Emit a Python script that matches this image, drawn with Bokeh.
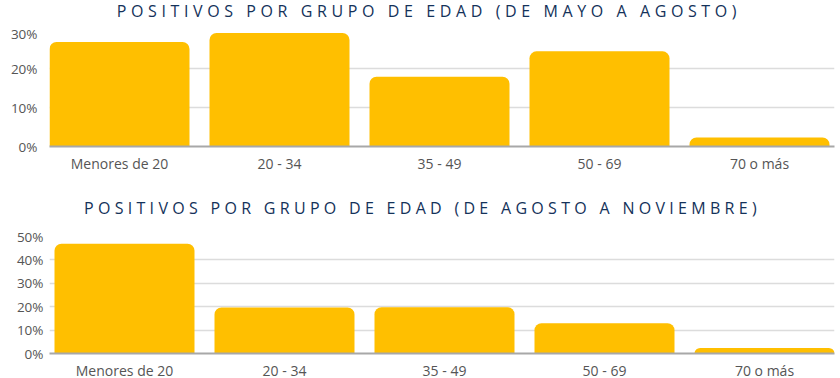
from bokeh.plotting import figure
from bokeh.models import (Range1d, FixedTicker, PrintfTickFormatter,
                          Div, ColumnDataSource)
from bokeh.layouts import column
from bokeh.embed import file_html
from bokeh.resources import INLINE

# ---- data ----
categories = ["Menores de 20", "20 - 34", "35 - 49", "50 - 69", "70 o más"]
may_aug = [26.8, 29.1, 17.9, 24.4, 2.3]
aug_nov = [46.9, 19.7, 19.8, 12.9, 2.4]
title_top = "POSITIVOS POR GRUPO DE EDAD (DE MAYO A AGOSTO)"
title_bottom = "POSITIVOS POR GRUPO DE EDAD (DE AGOSTO A NOVIEMBRE)"
ticks_top = [0, 10, 20, 30]
ticks_bottom = [0, 10, 20, 30, 40, 50]

BAR = "#FFBF00"
NAVY = "#14325a"
W = 840
LEFT, RIGHT = 49, 6
FRAME_W = W - LEFT - RIGHT
BAR_PX = 140.0
STEP = 160.0 / BAR_PX  # category step in bar-width units


def make_title(text, height, spacing, shift):
    return Div(text=text, width=W, height=height, margin=(0, 0, 0, 0),
               styles={"font-family": "'Open Sans', sans-serif", "font-size": "16px",
                       "letter-spacing": f"{spacing}px", "color": NAVY,
                       "text-align": "center", "line-height": f"{height - 1}px",
                       "box-sizing": "border-box", "padding-left": f"{shift}px",
                       "width": f"{W}px", "white-space": "nowrap"})


def make_fig(values, ymax, ticks, height, top, bottom, ystandoff, x_offset_px):
    xs = [i * STEP for i in range(len(categories))]
    src = ColumnDataSource(dict(x=xs, cat=categories, val=values))
    start = -0.5 - x_offset_px / BAR_PX
    p = figure(x_range=Range1d(start, start + FRAME_W / BAR_PX),
               y_range=Range1d(0, ymax), width=W, height=height,
               output_backend="svg", toolbar_location=None,
               min_border_left=LEFT, min_border_right=RIGHT,
               min_border_top=top, min_border_bottom=bottom)
    p.vbar(x="x", top="val", width=1.0, source=src, fill_color=BAR,
           line_color=None, border_radius=(7, 7, 0, 0))
    p.outline_line_color = None
    p.background_fill_color = "white"
    p.border_fill_color = "white"
    p.xgrid.grid_line_color = None
    p.ygrid.grid_line_color = "#dcdcdc"
    p.ygrid.grid_line_width = 1.5
    p.yaxis.ticker = FixedTicker(ticks=ticks)
    p.yaxis.formatter = PrintfTickFormatter(format="%d%%")
    p.yaxis.axis_line_color = None
    p.yaxis.major_tick_line_color = None
    p.yaxis.minor_tick_line_color = None
    p.yaxis.major_tick_out = 0
    p.yaxis.major_tick_in = 0
    p.yaxis.minor_tick_out = 0
    p.yaxis.major_label_text_font = "Open Sans"
    p.yaxis.major_label_text_font_size = "13.5px"
    p.yaxis.major_label_text_color = "#555555"
    p.yaxis.major_label_standoff = ystandoff
    p.xaxis.ticker = FixedTicker(ticks=xs)
    p.xaxis.major_label_overrides = {x: c for x, c in zip(xs, categories)}
    p.xaxis.axis_line_color = "#a8a8a8"
    p.xaxis.axis_line_width = 2
    p.xaxis.major_tick_line_color = None
    p.xaxis.minor_tick_line_color = None
    p.xaxis.major_tick_out = 0
    p.xaxis.major_tick_in = 0
    p.xaxis.minor_tick_out = 0
    p.xaxis.major_label_text_font = "Open Sans"
    p.xaxis.major_label_text_font_size = "14px"
    p.xaxis.major_label_text_color = "#555555"
    p.xaxis.major_label_standoff = 7
    return p


div1 = make_title(title_top, 24, 4.6, 18)
fig1 = make_fig(may_aug, 30, ticks_top, 173, 5, 51, 12, 0)
div2 = make_title(title_bottom, 24, 4.3, 5)
fig2 = make_fig(aug_nov, 50, ticks_bottom, 161, 15, 29, 6, 5)

layout = column(div1, fig1, div2, fig2, spacing=0, margin=(0, 0, 0, 0))

open("out.html", "w").write(file_html(layout, INLINE))
